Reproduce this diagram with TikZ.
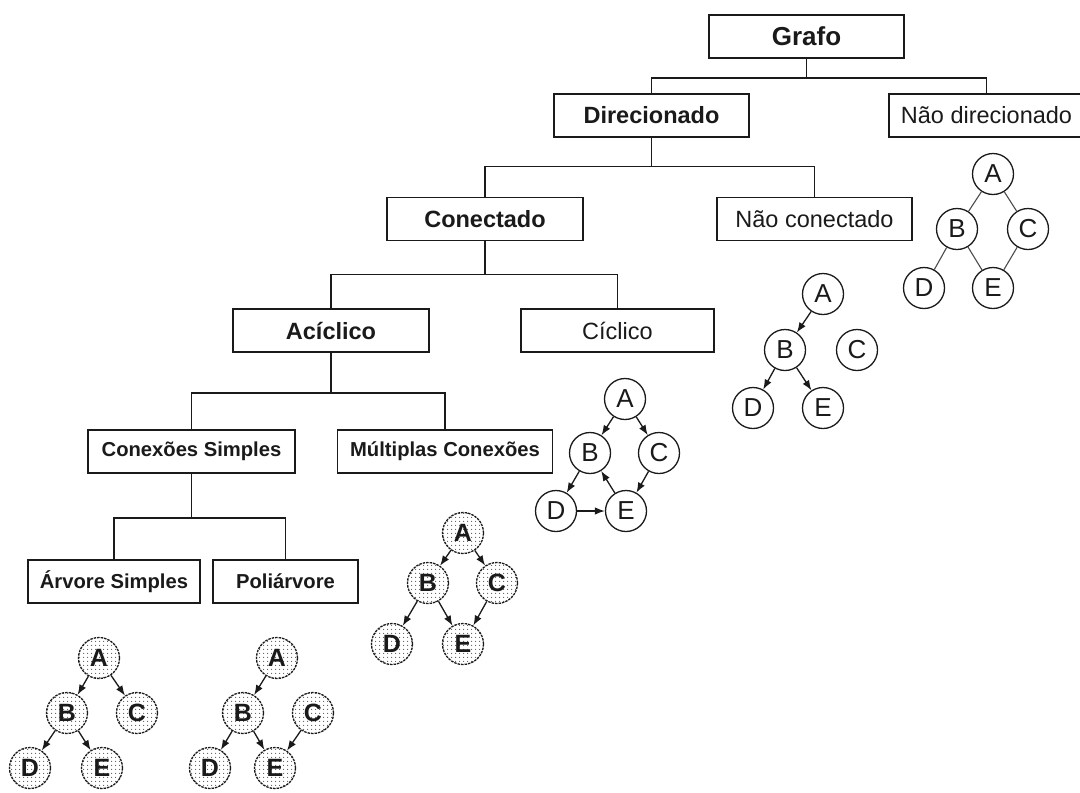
\documentclass[tikz,border=0pt]{standalone}
\usepackage{fontspec}
\setmainfont{Liberation Sans}
\usetikzlibrary{arrows.meta,patterns.meta}
\definecolor{ink}{HTML}{1A1A1A}
\begin{document}
\begin{tikzpicture}[x=1pt,y=-1pt,
  box/.style={draw=ink, line width=1.6pt, rectangle, minimum height=43pt, inner sep=0pt, text=ink, fill=white},
  bigbox/.style={box, font=\fontsize{23.5}{26}\selectfont},
  boldbox/.style={bigbox, font=\fontsize{23.5}{26}\selectfont\bfseries},
  smallbox/.style={box, font=\fontsize{20.2}{22}\selectfont\bfseries},
  link/.style={draw=ink, line width=1.6pt},
  vtx/.style={circle, draw=ink, line width=1.3pt, minimum size=41pt, inner sep=0pt, text=ink, fill=white,
    font=\fontsize{26}{28}\selectfont},
  dvtx/.style={circle, draw=ink, line width=1.3pt, dash pattern=on 2.5pt off 1pt, minimum size=41pt, inner sep=0pt, text=ink,
    pattern={Dots[distance=4pt,radius=0.65pt]}, pattern color=gray!70!black,
    font=\fontsize{25}{28}\selectfont\bfseries},
  arr/.style={draw=ink, line width=1.3pt, -{Latex[length=10pt,width=7.5pt]}},
  edge/.style={draw=gray!60!black, line width=1.1pt}]
\useasboundingbox[fill=white] (0,0) rectangle (1080,793);

% ---- classification tree ----
\node[box, minimum width=195pt, font=\fontsize{26}{28}\selectfont\bfseries] (grafo) at (806.5,36.5) {Grafo};
\node[boldbox, minimum width=195pt] (dir) at (651.5,115.5) {Direcionado};
\node[bigbox, minimum width=195pt] (ndir) at (986.5,115.5) {Não direcionado};
\node[boldbox, minimum width=196pt] (con) at (485,219) {Conectado};
\node[bigbox, minimum width=195pt] (ncon) at (814.5,219) {Não conectado};
\node[boldbox, minimum width=196pt] (acic) at (331,330.5) {Acíclico};
\node[bigbox, minimum width=193pt] (cic) at (617.5,330.5) {Cíclico};
\node[smallbox, minimum width=207pt] (csimp) at (191.5,451.5) {Conexões Simples};
\node[smallbox, minimum width=215pt] (mult) at (445,451.5) {Múltiplas Conexões};
\node[smallbox, minimum width=172pt] (arv) at (114,581.5) {Árvore Simples};
\node[smallbox, minimum width=145pt] (poli) at (285.5,581.5) {Poliárvore};

% branch junctions below each parent box
\path (grafo.south) -- ++(0,19) coordinate (j1);
\path (dir.south) -- ++(0,28.5) coordinate (j2);
\path (con.south) -- ++(0,33) coordinate (j3);
\path (acic.south) -- ++(0,40) coordinate (j4);
\path (csimp.south) -- ++(0,44) coordinate (j5);

\draw[link] (grafo.south) -- (j1);
\draw[link] (dir.north) |- (j1) -| (ndir.north);
\draw[link] (dir.south) -- (j2);
\draw[link] (con.north) |- (j2) -| (ncon.north);
\draw[link] (con.south) -- (j3);
\draw[link] (acic.north) |- (j3) -| (cic.north);
\draw[link] (acic.south) -- (j4);
\draw[link] (csimp.north) |- (j4) -| (mult.north);
\draw[link] (csimp.south) -- (j5);
\draw[link] (arv.north) |- (j5) -| (poli.north);

% ---- undirected example ----
\node[vtx] (uA) at (993,174) {A};
\node[vtx] (uB) at (957,229) {B};
\node[vtx] (uC) at (1028,229) {C};
\node[vtx] (uD) at (924,288) {D};
\node[vtx] (uE) at (993,288) {E};
\draw[edge] (uA) -- (uB);
\draw[edge] (uA) -- (uC);
\draw[edge] (uB) -- (uD);
\draw[edge] (uB) -- (uE);
\draw[edge] (uC) -- (uE);

% ---- not connected example ----
\node[vtx] (nA) at (823,294) {A};
\node[vtx] (nB) at (785,350) {B};
\node[vtx] (nC) at (857,350) {C};
\node[vtx] (nD) at (753,408) {D};
\node[vtx] (nE) at (823,408) {E};
\draw[arr] (nA) -- (nB);
\draw[arr] (nB) -- (nD);
\draw[arr] (nB) -- (nE);

% ---- cyclic example ----
\node[vtx] (cA) at (625,399) {A};
\node[vtx] (cB) at (590,453) {B};
\node[vtx] (cC) at (659,453) {C};
\node[vtx] (cD) at (556,511) {D};
\node[vtx] (cE) at (626,511) {E};
\draw[arr] (cA) -- (cB);
\draw[arr] (cA) -- (cC);
\draw[arr] (cB) -- (cD);
\draw[arr] (cD) -- (cE);
\draw[arr] (cE) -- (cB);
\draw[arr] (cC) -- (cE);

% ---- multiple connections example ----
\node[dvtx] (mA) at (463,533) {A};
\node[dvtx] (mB) at (428,583) {B};
\node[dvtx] (mC) at (497,583) {C};
\node[dvtx] (mD) at (392,644) {D};
\node[dvtx] (mE) at (463,644) {E};
\draw[arr] (mA) -- (mB);
\draw[arr] (mA) -- (mC);
\draw[arr] (mB) -- (mD);
\draw[arr] (mB) -- (mE);
\draw[arr] (mC) -- (mE);

% ---- simple tree example ----
\node[dvtx] (tA) at (99,658) {A};
\node[dvtx] (tB) at (67,713) {B};
\node[dvtx] (tC) at (137,713) {C};
\node[dvtx] (tD) at (30,768) {D};
\node[dvtx] (tE) at (102,768) {E};
\draw[arr] (tA) -- (tB);
\draw[arr] (tA) -- (tC);
\draw[arr] (tB) -- (tD);
\draw[arr] (tB) -- (tE);

% ---- polytree example ----
\node[dvtx] (pA) at (277,658) {A};
\node[dvtx] (pB) at (243,713) {B};
\node[dvtx] (pC) at (313,713) {C};
\node[dvtx] (pD) at (210,768) {D};
\node[dvtx] (pE) at (275,768) {E};
\draw[arr] (pA) -- (pB);
\draw[arr] (pB) -- (pD);
\draw[arr] (pB) -- (pE);
\draw[arr] (pC) -- (pE);
\end{tikzpicture}
\end{document}
